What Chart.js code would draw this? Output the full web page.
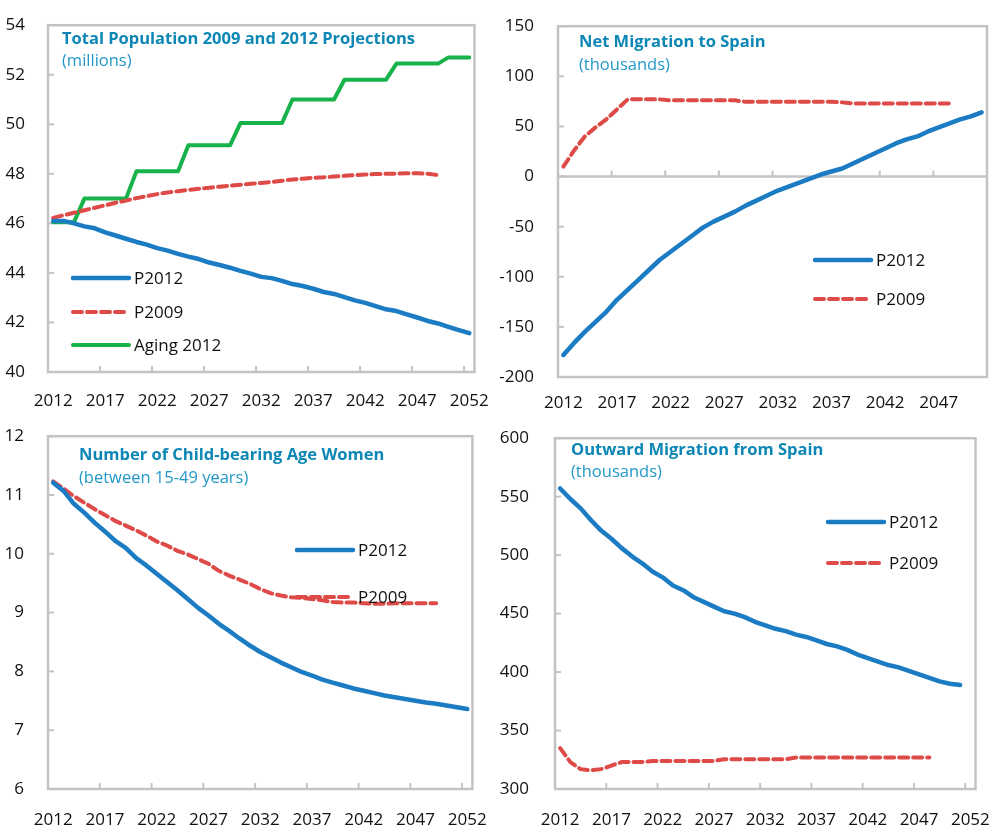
<!DOCTYPE html>
<html>
<head>
<meta charset="utf-8">
<script src="https://cdn.jsdelivr.net/npm/chart.js@4.4.1/dist/chart.umd.min.js"></script>
<style>
  body { margin: 0; background: #fff; width: 1003px; height: 825px; position: relative; overflow: hidden; }
  canvas { position: absolute; }
</style>
</head>
<body>
<canvas id="c1" style="left:0;top:0" width="500" height="410"></canvas>
<canvas id="c2" style="left:500px;top:0" width="503" height="410"></canvas>
<canvas id="c3" style="left:0;top:410px" width="500" height="415"></canvas>
<canvas id="c4" style="left:500px;top:410px" width="503" height="415"></canvas>
<script>
// years on the category axis
const years = [2012, 2013, 2014, 2015, 2016, 2017, 2018, 2019, 2020, 2021, 2022, 2023, 2024, 2025, 2026, 2027, 2028, 2029, 2030, 2031, 2032, 2033, 2034, 2035, 2036, 2037, 2038, 2039, 2040, 2041, 2042, 2043, 2044, 2045, 2046, 2047, 2048, 2049, 2050, 2051, 2052];
const yearsNet = years.slice(0, 40); // 2012-2051

// total population (millions)
const popP2012 = [46.1, 46.1, 46.0, 45.88, 45.8, 45.64, 45.51, 45.38, 45.25, 45.14, 45.0, 44.9, 44.77, 44.66, 44.56, 44.42, 44.32, 44.21, 44.08, 43.97, 43.84, 43.79, 43.68, 43.55, 43.47, 43.36, 43.23, 43.15, 43.02, 42.89, 42.79, 42.66, 42.53, 42.46, 42.33, 42.2, 42.06, 41.96, 41.82, 41.69, 41.57];
const popP2009 = [46.22, 46.33, 46.43, 46.53, 46.63, 46.73, 46.83, 46.92, 47.02, 47.1, 47.18, 47.25, 47.3, 47.35, 47.4, 47.44, 47.48, 47.52, 47.56, 47.6, 47.63, 47.67, 47.72, 47.77, 47.8, 47.84, 47.86, 47.89, 47.92, 47.95, 47.97, 47.99, 48.0, 48.01, 48.02, 48.02, 48.0, 47.95];
const popAging = [46.05, 46.05, 46.05, 47.0, 47.0, 47.0, 47.0, 47.0, 48.1, 48.1, 48.1, 48.1, 48.1, 49.15, 49.15, 49.15, 49.15, 49.15, 50.05, 50.05, 50.05, 50.05, 50.05, 51.0, 51.0, 51.0, 51.0, 51.0, 51.8, 51.8, 51.8, 51.8, 51.8, 52.45, 52.45, 52.45, 52.45, 52.45, 52.7, 52.7, 52.7];

// net migration (thousands)
const netP2012 = [-178, -166, -155, -145, -135, -123, -113, -103, -93, -83, -75, -67, -59, -51, -45, -40, -35, -29, -24, -19, -14, -10, -6, -2, 2, 5, 8, 13, 18, 23, 28, 33, 37, 40, 45, 49, 53, 57, 60, 64];
const netP2009 = [10, 26, 40, 49, 57, 67, 77, 77, 77, 77, 76, 76, 76, 76, 76, 76, 76, 74.5, 74.5, 74.5, 74.5, 74.5, 74.5, 74.5, 74.5, 74.5, 74, 73, 73, 73, 73, 73, 73, 73, 73, 73, 73];

// child-bearing age women (millions)
const womenP2012 = [11.21, 11.07, 10.85, 10.70, 10.53, 10.38, 10.22, 10.10, 9.93, 9.80, 9.66, 9.52, 9.38, 9.23, 9.08, 8.95, 8.81, 8.69, 8.56, 8.44, 8.33, 8.24, 8.15, 8.07, 7.99, 7.93, 7.86, 7.81, 7.76, 7.71, 7.67, 7.63, 7.59, 7.56, 7.53, 7.50, 7.47, 7.45, 7.42, 7.39, 7.36];
const womenP2009 = [11.23, 11.11, 10.98, 10.87, 10.76, 10.66, 10.56, 10.48, 10.40, 10.31, 10.21, 10.14, 10.05, 9.99, 9.91, 9.83, 9.71, 9.63, 9.56, 9.49, 9.40, 9.33, 9.29, 9.26, 9.25, 9.23, 9.21, 9.18, 9.17, 9.17, 9.16, 9.15, 9.15, 9.16, 9.16, 9.16, 9.16, 9.16];

// outward migration (thousands)
const outP2012 = [557, 548, 540, 530, 521, 514, 506, 499, 493, 486, 481, 474, 470, 464, 460, 456, 452, 450, 447, 443, 440, 437, 435, 432, 430, 427, 424, 422, 419, 415, 412, 409, 406, 404, 401, 398, 395, 392, 390, 389];
const outP2009 = [335, 323, 317, 316, 317, 320, 323, 323, 323, 324, 324, 324, 324, 324, 324, 324, 325.5, 325.5, 325.5, 325.5, 325.5, 325.5, 325.5, 327, 327, 327, 327, 327, 327, 327, 327, 327, 327, 327, 327, 327, 327];

const BLUE = "#1b7cc3";
const RED = "#de4a47";
const GREEN = "#17b24a";
const FRAME = "#c3c3c3";
const TITLE = "#0c87b5";
const SUB = "#2398c8";

Chart.defaults.font.family = '"Open Sans", sans-serif';
Chart.defaults.font.size = 17;
Chart.defaults.color = "#111";

function blue(label, data) {
  return { label, data, borderColor: BLUE, borderWidth: 4.5, pointRadius: 0, tension: 0, borderCapStyle: "round", borderJoinStyle: "round" };
}
function red(label, data) {
  return { label, data, borderColor: RED, borderWidth: 4, pointRadius: 0, tension: 0, borderDash: [9, 5], borderCapStyle: "round" };
}
function green(label, data) {
  return { label, data, borderColor: GREEN, borderWidth: 4, pointRadius: 0, tension: 0, borderCapStyle: "round", borderJoinStyle: "round" };
}

// frame, inward tick marks, titles and legend drawn inside the plot box
const panelPlugin = {
  id: "panel",
  beforeDatasetsDraw(chart, args, o) {
    const { ctx, chartArea: a, scales: { x, y } } = chart;
    ctx.save();
    ctx.strokeStyle = FRAME;
    ctx.lineWidth = 2.5;
    ctx.strokeRect(a.left, a.top, a.right - a.left, a.bottom - a.top);
    let base = a.bottom;
    if (o.base != null) {
      base = y.getPixelForValue(o.base);
      ctx.beginPath();
      ctx.moveTo(a.left, base);
      ctx.lineTo(a.right, base);
      ctx.stroke();
    }
    ctx.lineWidth = 2;
    const n = chart.data.labels.length;
    for (let i = 5; i < n; i += 5) {
      const px = (x.getPixelForValue(i - 1) + x.getPixelForValue(i)) / 2;
      ctx.beginPath();
      ctx.moveTo(px, base);
      ctx.lineTo(px, base - 6);
      ctx.stroke();
    }
    y.ticks.forEach(t => {
      const py = y.getPixelForValue(t.value);
      ctx.beginPath();
      ctx.moveTo(a.left, py);
      ctx.lineTo(a.left + 6, py);
      ctx.stroke();
    });
    ctx.restore();
  },
  afterDatasetsDraw(chart, args, o) {
    const { ctx } = chart;
    ctx.save();
    ctx.textBaseline = "middle";
    ctx.textAlign = "left";
    ctx.fillStyle = TITLE;
    ctx.font = 'bold 16.5px "Open Sans", sans-serif';
    ctx.fillText(o.title, o.tx, o.ty);
    ctx.fillStyle = SUB;
    ctx.font = '16.5px "Open Sans", sans-serif';
    ctx.fillText(o.sub, o.tx, o.sy);
    chart.data.datasets.forEach((ds, i) => {
      const ly = o.ly[i];
      ctx.strokeStyle = ds.borderColor;
      ctx.lineWidth = ds.borderWidth;
      ctx.lineCap = "round";
      ctx.setLineDash(ds.borderDash || []);
      ctx.beginPath();
      ctx.moveTo(o.lx, ly);
      ctx.lineTo(o.lx + 56, ly);
      ctx.stroke();
      ctx.setLineDash([]);
      ctx.fillStyle = "#111";
      ctx.font = '17px "Open Sans", sans-serif';
      ctx.fillText(ds.label, o.lx + 61, ly + 1);
    });
    ctx.restore();
  }
};

function makeChart(id, labels, datasets, yOpt, box, panel) {
  new Chart(document.getElementById(id), {
    type: "line",
    data: { labels, datasets },
    plugins: [panelPlugin],
    options: {
      responsive: false,
      animation: false,
      events: [],
      layout: { padding: { top: box.top, right: box.right, left: 0, bottom: 0 } },
      plugins: { legend: { display: false }, tooltip: { enabled: false }, panel },
      scales: {
        x: {
          type: "category",
          offset: true,
          grid: { display: false },
          border: { display: false },
          afterFit: s => { s.height = box.bottom; },
          ticks: {
            autoSkip: false,
            maxRotation: 0,
            padding: box.xpad,
            color: "#111",
            callback: function (v, i) { return i % 5 === 0 ? this.getLabelForValue(v) : ""; }
          }
        },
        y: {
          min: yOpt.min,
          max: yOpt.max,
          grid: { display: false },
          border: { display: false },
          afterFit: s => { s.width = box.left; },
          ticks: { stepSize: yOpt.step, padding: box.ypad, color: "#111" }
        }
      }
    }
  });
}

makeChart("c1", years,
  [blue("P2012", popP2012), red("P2009", popP2009), green("Aging 2012", popAging)],
  { min: 40, max: 54, step: 2 },
  { left: 48, right: 23, top: 20, bottom: 38, xpad: 11, ypad: 15 },
  { title: "Total Population 2009 and 2012 Projections", sub: "(millions)", tx: 62, ty: 39, sy: 61, lx: 73, ly: [278, 312, 345] });

makeChart("c2", yearsNet,
  [blue("P2012", netP2012), red("P2009", netP2009)],
  { min: -200, max: 150, step: 50 },
  { left: 58, right: 16, top: 17, bottom: 33, xpad: 8, ypad: 16 },
  { title: "Net Migration to Spain", sub: "(thousands)", tx: 79, ty: 42, sy: 65, lx: 315, ly: [260, 299], base: 0 });

makeChart("c3", years,
  [blue("P2012", womenP2012), red("P2009", womenP2009)],
  { min: 6, max: 12, step: 1 },
  { left: 48, right: 25, top: 24, bottom: 36, xpad: 13, ypad: 16 },
  { title: "Number of Child-bearing Age Women", sub: "(between 15-49 years)", tx: 79, ty: 45, sy: 68, lx: 297, ly: [140, 187] });

makeChart("c4", years,
  [blue("P2012", outP2012), red("P2009", outP2009)],
  { min: 300, max: 600, step: 50 },
  { left: 55, right: 16, top: 23, bottom: 36, xpad: 13, ypad: 18 },
  { title: "Outward Migration from Spain", sub: "(thousands)", tx: 71, ty: 40, sy: 62, lx: 328, ly: [112, 153] });
</script>
</body>
</html>
